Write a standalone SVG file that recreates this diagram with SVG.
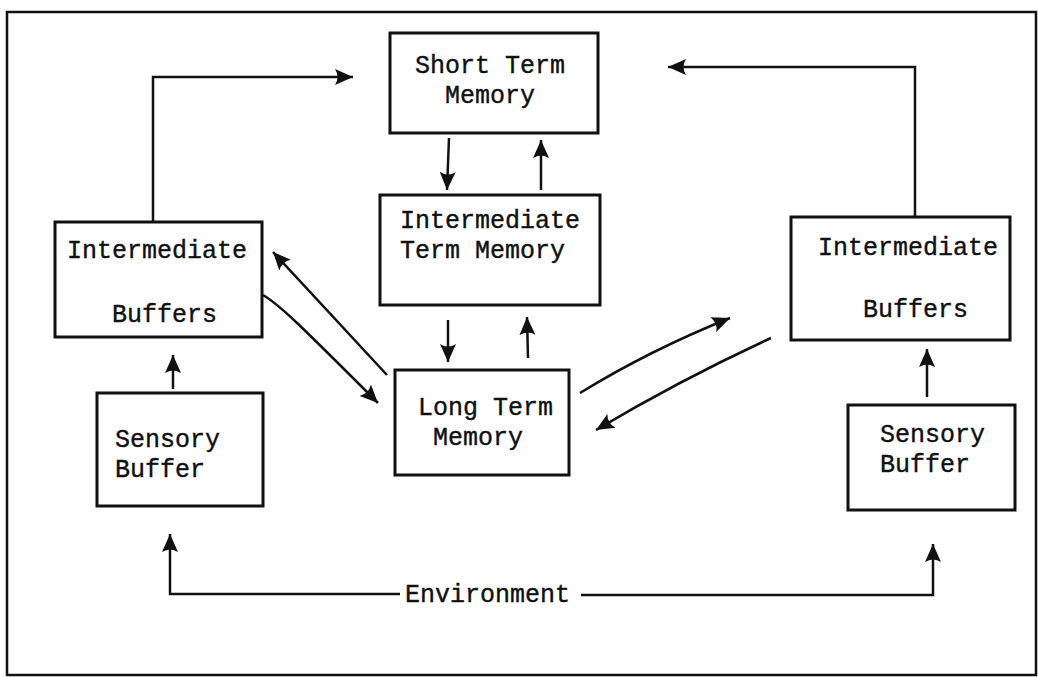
<svg xmlns="http://www.w3.org/2000/svg" width="1038" height="677" viewBox="0 0 1038 677">
<defs>
<marker id="ah" markerUnits="userSpaceOnUse" markerWidth="20" markerHeight="18" refX="18" refY="9" orient="auto">
<path d="M0,1 L18,9 L0,17 Q5,9 0,1 z" fill="#111"/>
</marker>
<style>
.box{fill:none;stroke:#111;stroke-width:3}
.frame{fill:none;stroke:#111;stroke-width:2.5}
.t{font-family:"Liberation Mono","Courier New",monospace;font-size:25px;fill:#111;stroke:#111;stroke-width:0.4}
.c{fill:none;stroke:#111;stroke-width:2.5;marker-end:url(#ah)}
</style>
</defs>
<rect width="1038" height="677" fill="#fff"/>
<rect class="frame" x="7" y="12" width="1029" height="663"/>
<g id="stm">
<rect class="box" x="390" y="33" width="208" height="100"/>
<text class="t" x="415" y="73">Short Term</text>
<text class="t" x="445" y="103">Memory</text>
</g>
<g id="itm">
<rect class="box" x="380" y="195" width="220" height="110"/>
<text class="t" x="400" y="228">Intermediate</text>
<text class="t" x="400" y="258">Term Memory</text>
</g>
<g id="ltm">
<rect class="box" x="395" y="370" width="174" height="105"/>
<text class="t" x="418" y="415">Long Term</text>
<text class="t" x="433" y="445">Memory</text>
</g>
<g id="ib-left">
<rect class="box" x="55" y="222" width="207" height="115"/>
<text class="t" x="67" y="258">Intermediate</text>
<text class="t" x="112" y="322">Buffers</text>
</g>
<g id="ib-right">
<rect class="box" x="791" y="217" width="219" height="123"/>
<text class="t" x="818" y="255">Intermediate</text>
<text class="t" x="863" y="317">Buffers</text>
</g>
<g id="sb-left">
<rect class="box" x="97" y="393" width="166" height="113"/>
<text class="t" x="115" y="447">Sensory</text>
<text class="t" x="115" y="477">Buffer</text>
</g>
<g id="sb-right">
<rect class="box" x="848" y="405" width="167" height="105"/>
<text class="t" x="880" y="442">Sensory</text>
<text class="t" x="880" y="472">Buffer</text>
</g>
<g id="env">
<text class="t" x="405" y="602">Environment</text>
</g>
<g id="connectors">
<path class="c" d="M153,222 V77 H353"/>
<path class="c" d="M915,218 V67 H668"/>
<path class="c" d="M449,138 L447,190"/>
<path class="c" d="M541,190 V140"/>
<path class="c" d="M448,320 V362"/>
<path class="c" d="M528,358 L527,317"/>
<path class="c" d="M263,295 C280,305 300,325 378,403"/>
<path class="c" d="M387,375 L273,252"/>
<path class="c" d="M580,393 Q650,350 730,318"/>
<path class="c" d="M771,338 Q680,380 596,430"/>
<path class="c" d="M173,389 V355"/>
<path class="c" d="M927,397 V349"/>
<path class="c" d="M400,594 H170 V534"/>
<path class="c" d="M581,595 H933 V544"/>
</g>
</svg>
